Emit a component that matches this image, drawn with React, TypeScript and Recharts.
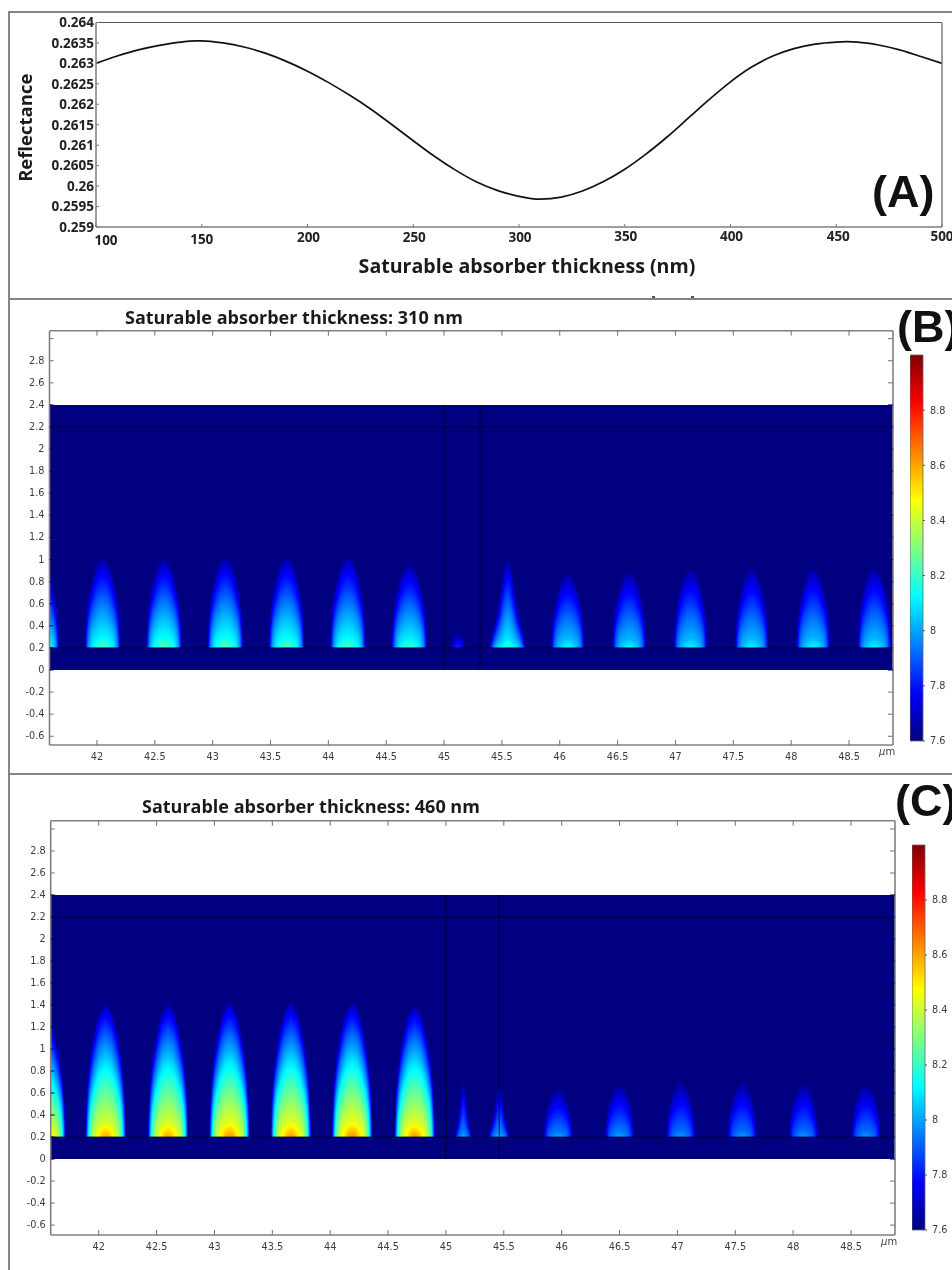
import React from "react";
import { ComposedChart, LineChart, BarChart, Bar, Line, Area, XAxis, YAxis } from "recharts";

// ---------- Panel A ----------
const thicknessNm = [100,110,120,130,140,147,150,160,170,180,190,200,210,220,230,240,250,260,270,280,290,300,310,320,330,340,350,360,370,380,390,400,410,420,430,440,450,455,460,470,480,490,500];
const reflectance = [0.263,0.26318,0.26333,0.26344,0.26352,0.26355,0.26355,0.2635,0.2634,0.26325,0.26305,0.26281,0.26253,0.26222,0.26188,0.2615,0.26111,0.26073,0.26039,0.2601,0.25989,0.25975,0.25968,0.25973,0.25988,0.26011,0.26041,0.26078,0.2612,0.26166,0.26212,0.26255,0.26291,0.26318,0.26336,0.26347,0.26352,0.26353,0.26352,0.26345,0.26333,0.26317,0.263];
const xTicksA = [100,150,200,250,300,350,400,450,500];
const yTicksA = [0.259,0.2595,0.26,0.2605,0.261,0.2615,0.262,0.2625,0.263,0.2635,0.264];
const xLabelShiftA: Record<number, [number, number]> = { 100:[10,3], 150:[0,2], 200:[1,0], 250:[1,0], 300:[1,0], 350:[1,-1], 400:[1,-1], 450:[2,-1], 500:[0,-1] };

// ---------- Panels B and C: field lobes ----------
const centersB = [41.52,42.05,42.58,43.11,43.64,44.17,44.7,45.12,45.55,46.07,46.6,47.13,47.66,48.19,48.72];
const topsB    = [0.98,1.04,1.03,1.05,1.05,1.05,0.98,0.35,1.03,0.89,0.91,0.94,0.94,0.95,0.95];
const peaksB   = [8.24,8.24,8.26,8.26,8.25,8.24,8.22,7.86,8.2,8.14,8.13,8.13,8.13,8.13,8.13];
const halfsB   = [0.155,0.155,0.155,0.155,0.155,0.155,0.155,0.052,0.16,0.146,0.146,0.146,0.146,0.146,0.146];
const shapesB  = ["dome","dome","dome","dome","dome","dome","dome","dome","spike","dome","dome","dome","dome","dome","dome"];

const centersC = [41.54,42.06,42.6,43.13,43.66,44.19,44.73,45.15,45.46,45.97,46.5,47.03,47.56,48.09,48.63];
const topsC    = [1.3,1.44,1.44,1.45,1.45,1.45,1.42,0.73,0.69,0.65,0.69,0.72,0.72,0.7,0.7];
const peaksC   = [8.6,8.6,8.6,8.63,8.62,8.64,8.62,8.03,8.06,8.02,8.02,8.0,8.0,8.0,8.0];
const halfsC   = [0.175,0.175,0.175,0.175,0.175,0.175,0.175,0.07,0.09,0.125,0.125,0.125,0.125,0.125,0.125];
const shapesC  = ["dome","dome","dome","dome","dome","dome","dome","spike","spike","dome","dome","dome","dome","dome","dome"];

const xTicksField = [42,42.5,43,43.5,44,44.5,45,45.5,46,46.5,47,47.5,48,48.5];
const yTicksField = [-0.6,-0.4,-0.2,0,0.2,0.4,0.6,0.8,1,1.2,1.4,1.6,1.8,2,2.2,2.4,2.6,2.8,3];
const colorTicks = [7.6,7.8,8,8.2,8.4,8.6,8.8];
const colorRange = [{ name: "scale", range: [7.6, 9.0] }];

// contour geometry: relative level -> relative height / base half width
const contourN = [0,0.14,0.29,0.48,0.62,0.77,0.81,0.95,1];
const contourH = [1,0.93,0.78,0.56,0.39,0.19,0.12,0.035,0];
const contourW = [1,0.98,0.93,0.86,0.78,0.63,0.54,0.22,0];
const domeU = [0,0.15,0.3,0.45,0.6,0.75,0.87,0.95,1];
const domeW = [1,0.98,0.94,0.87,0.76,0.6,0.43,0.27,0];
const spikeU = [0,0.15,0.3,0.45,0.6,0.75,0.87,0.95,1];
const spikeW = [1,0.85,0.68,0.52,0.4,0.29,0.2,0.12,0];

const jetStops: [number, string][] = [[0,"#00007f"],[0.125,"#0000ff"],[0.375,"#00ffff"],[0.625,"#ffff00"],[0.875,"#ff0000"],[1,"#7f0000"]];
const levels: number[] = [];
for (let v = 7.61; v < 8.72; v += 0.018) levels.push(v);

const SAMPLE = (xs: number[], ys: number[], x: number) => {
  for (let i = 1; i < xs.length; i++) {
    if (x <= xs[i]) {
      const t = (x - xs[i - 1]) / (xs[i] - xs[i - 1]);
      return ys[i - 1] + t * (ys[i] - ys[i - 1]);
    }
  }
  return ys[ys.length - 1];
};

const hexToRgb = (h: string) => [parseInt(h.slice(1, 3), 16), parseInt(h.slice(3, 5), 16), parseInt(h.slice(5, 7), 16)];
const jetColor = (v: number) => {
  const n = (v - 7.6) / 1.4;
  for (let i = 1; i < jetStops.length; i++) {
    if (n <= jetStops[i][0]) {
      const t = (n - jetStops[i - 1][0]) / (jetStops[i][0] - jetStops[i - 1][0]);
      const a = hexToRgb(jetStops[i - 1][1]);
      const b = hexToRgb(jetStops[i][1]);
      return `rgb(${a.map((c, k) => Math.round(c + t * (b[k] - c))).join(",")})`;
    }
  }
  return "#7f0000";
};

type Lobes = { centers: number[]; tops: number[]; peaks: number[]; halfs: number[]; shapes: string[] };

const contourRows = (l: Lobes, level: number) => {
  const rows: { x: number; y: number }[] = [];
  l.centers.forEach((c, i) => {
    if (l.peaks[i] <= level) return;
    const n = (level - 7.6) / (l.peaks[i] - 7.6);
    const H = (l.tops[i] - 0.2) * SAMPLE(contourN, contourH, n);
    const W = l.halfs[i] * SAMPLE(contourN, contourW, n);
    const us = l.shapes[i] === "spike" ? spikeU : domeU;
    const ws = l.shapes[i] === "spike" ? spikeW : domeW;
    for (let k = 0; k < us.length; k++) rows.push({ x: c - W * ws[k], y: 0.2 + H * us[k] });
    for (let k = us.length - 2; k >= 0; k--) rows.push({ x: c + W * ws[k], y: 0.2 + H * us[k] });
  });
  return rows;
};

const NAVY = "#000080";
const FRAME = "#858585";
const SANS = "'DejaVu Sans', sans-serif";
const BOLD = "'Open Sans', sans-serif";

const blank = () => "";
const axisLine = { stroke: "#808080", strokeWidth: 1.6 };
const innerTick = { stroke: "#707070", strokeWidth: 1 };
const labelTick = { fontFamily: SANS, fontSize: 9.7, fill: "#3c3c3c" };
const tickColor = (v: number) => (v >= 0 && v <= 2.4 ? "#00006c" : "#707070");

function YTickLeft(p: any) {
  const v = p.payload.value as number;
  return (
    <g>
      <line x1={p.x} x2={p.x + 4} y1={p.y} y2={p.y} stroke={tickColor(v)} />
      {v !== 3 && (
        <text x={p.x - 5} y={p.y} textAnchor="end" dominantBaseline="middle" fontFamily={SANS} fontSize={9.7} fill="#3c3c3c">{Number(v.toFixed(1))}</text>
      )}
    </g>
  );
}
function YTickRight(p: any) {
  const v = p.payload.value as number;
  return <line x1={p.x} x2={p.x - 5} y1={p.y} y2={p.y} stroke={tickColor(v)} />;
}

function FieldPanel(props: {
  top: number; height: number; left: number; right: number; plotTop: number; plotBottom: number;
  xDomain: [number, number]; yDomain: [number, number]; lobes: Lobes; boundary: number;
}) {
  const { top, height, left, right, plotTop, plotBottom, xDomain, yDomain, lobes, boundary } = props;
  const fieldRows = [{ x: xDomain[0], y: 2.4 }, { x: xDomain[1], y: 2.4 }];
  const line22 = [{ x: xDomain[0], y: 2.2 }, { x: xDomain[1], y: 2.2 }];
  const line02 = [{ x: xDomain[0], y: 0.2 }, { x: xDomain[1], y: 0.2 }];
  const line45 = [{ x: 45, y: 0 }, { x: 45, y: 2.4 }];
  const lineB = [{ x: boundary, y: 0 }, { x: boundary, y: 2.4 }];
  return (
    <div style={{ position: "absolute", left: 0, top, width: 952, height }}>
      <ComposedChart
        width={952}
        height={height}
        margin={{ top: plotTop - top - 1, bottom: top + height - plotBottom - 22, left: left - 40, right: 952 - right - 1 }}
      >
        <XAxis xAxisId="b" type="number" dataKey="x" domain={xDomain} allowDataOverflow ticks={xTicksField} interval={0} height={22} tickSize={-5} tickMargin={13} axisLine={axisLine} tickLine={innerTick} tick={labelTick} />
        <XAxis xAxisId="t" orientation="top" type="number" dataKey="x" domain={xDomain} allowDataOverflow ticks={xTicksField} interval={0} height={1} tickSize={-5} tickFormatter={blank} axisLine={axisLine} tickLine={innerTick} />
        <YAxis yAxisId="l" type="number" domain={yDomain} allowDataOverflow ticks={yTicksField} interval={0} width={40} tickSize={0} tickMargin={0} axisLine={axisLine} tickLine={false} tick={YTickLeft} />
        <YAxis yAxisId="r" orientation="right" type="number" domain={yDomain} allowDataOverflow ticks={yTicksField} interval={0} width={1} tickSize={0} tickMargin={0} axisLine={axisLine} tickLine={false} tick={YTickRight} />
        <Area xAxisId="b" yAxisId="l" data={fieldRows} dataKey="y" baseValue={0} type="linear" stroke="none" fill={NAVY} fillOpacity={1} dot={false} activeDot={false} isAnimationActive={false} />
        {levels.map((lv) => (
          <Area key={lv} xAxisId="b" yAxisId="l" data={contourRows(lobes, lv)} dataKey="y" baseValue={0.2} type="linear" stroke="none" fill={jetColor(lv)} fillOpacity={1} dot={false} activeDot={false} isAnimationActive={false} />
        ))}
        {[line22, line02, line45, lineB].map((d, i) => (
          <Line key={i} xAxisId="b" yAxisId="l" data={d} dataKey="y" type="linear" stroke="#000020" strokeWidth={0.9} dot={false} activeDot={false} isAnimationActive={false} />
        ))}
      </ComposedChart>
    </div>
  );
}

function ColorBar(props: { left: number; top: number; bottom: number; id: string }) {
  const { left, top, bottom, id } = props;
  const pad = 10;
  return (
    <div style={{ position: "absolute", left, top: top - pad, width: 42, height: bottom - top + pad * 2 }}>
      <BarChart width={42} height={bottom - top + pad * 2} data={colorRange} margin={{ top: pad, bottom: pad, left: 0, right: 0 }} barCategoryGap={0}>
        <defs>
          <linearGradient id={id} x1="0" y1="1" x2="0" y2="0">
            {jetStops.map(([o, c]) => <stop key={o} offset={o} stopColor={c} />)}
          </linearGradient>
        </defs>
        <XAxis dataKey="name" hide />
        <YAxis orientation="right" type="number" domain={[7.6, 9]} ticks={colorTicks} interval={0} width={29} tickSize={2} tickMargin={5} axisLine={false} tickLine={{ stroke: "#555" }} tickFormatter={(v: number) => String(v)} tick={{ ...labelTick, textAnchor: "start" }} />
        <Bar dataKey="range" fill={`url(#${id})`} stroke="#666" strokeWidth={0.8} isAnimationActive={false} />
      </BarChart>
    </div>
  );
}

const rowsA = thicknessNm.map((x, i) => ({ x, y: reflectance[i] }));

function XTickA(p: any) {
  const v = p.payload.value as number;
  const [dx, dy] = xLabelShiftA[v];
  return (
    <text x={p.x + dx} y={p.y + dy + 5} textAnchor="middle" dominantBaseline="middle" fontFamily={BOLD} fontWeight={700} fontSize={13.5} fill="#222">{v}</text>
  );
}

const lobesB: Lobes = { centers: centersB, tops: topsB, peaks: peaksB, halfs: halfsB, shapes: shapesB };
const lobesC: Lobes = { centers: centersC, tops: topsC, peaks: peaksC, halfs: halfsC, shapes: shapesC };

const bigLabel = (left: number, baseline: number, text: string) => (
  <div style={{ position: "absolute", left, top: baseline - 41, fontFamily: "'Liberation Sans', Arial, sans-serif", fontWeight: 700, fontSize: 45, lineHeight: "52px", color: "#111", whiteSpace: "nowrap" }}>{text}</div>
);
const title = (left: number, center: number, text: string) => (
  <div style={{ position: "absolute", left, top: center - 12, fontFamily: BOLD, fontWeight: 700, fontSize: 18, lineHeight: "24px", color: "#1a1a1a", whiteSpace: "nowrap" }}>{text}</div>
);
const micron = (left: number, top: number) => (
  <div style={{ position: "absolute", left, top, fontFamily: SANS, fontSize: 10, lineHeight: "12px", color: "#444" }}><i>μ</i>m</div>
);
const rule = (left: number, top: number, width: number, height: number, color = FRAME) => (
  <div style={{ position: "absolute", left, top, width, height, background: color }} />
);

export default function App() {
  return (
    <div style={{ position: "absolute", left: 0, top: 0, width: 952, height: 1270, overflow: "hidden", background: "#fff", filter: "blur(0.6px)" }}>
      {rule(8, 11, 944, 1.5)}
      {rule(8, 11, 1.5, 1259)}
      {rule(8, 297.5, 944, 2)}
      {rule(8, 773, 944, 2)}

      <div style={{ position: "absolute", left: 0, top: 12, width: 952, height: 285 }}>
        <LineChart width={952} height={285} data={rowsA} margin={{ top: 9.5, bottom: 285 - 215 - 24, left: 16, right: 9 }}>
          <XAxis xAxisId="b" type="number" dataKey="x" domain={[100, 500]} ticks={xTicksA} interval={0} height={24} tickSize={-3} tickMargin={9} axisLine={{ stroke: "#7c7c7c", strokeWidth: 1.5 }} tickLine={{ stroke: "#777" }} tick={XTickA}
            label={{ value: "Saturable absorber thickness (nm)", position: "insideBottom", offset: -22, dx: 8, style: { fontFamily: BOLD, fontWeight: 700, fontSize: 19.6, fill: "#1a1a1a" } }} />
          <XAxis xAxisId="t" orientation="top" type="number" dataKey="x" domain={[100, 500]} ticks={[]} height={1} tick={false} tickLine={false} axisLine={{ stroke: "#555", strokeWidth: 1 }} />
          <YAxis yAxisId="l" type="number" domain={[0.259, 0.264]} ticks={yTicksA} interval={0} width={80} tickSize={-3} tickMargin={5} tickFormatter={(v: number) => String(Number(v.toFixed(4)))} axisLine={{ stroke: "#7c7c7c", strokeWidth: 1.5 }} tickLine={{ stroke: "#777" }} tick={{ fontFamily: BOLD, fontWeight: 700, fontSize: 13.5, fill: "#222" }}
            label={{ value: "Reflectance", angle: -90, position: "insideLeft", offset: 0, dx: 9, dy: 3, style: { fontFamily: BOLD, fontWeight: 700, fontSize: 18.5, fill: "#1a1a1a", textAnchor: "middle" } }} />
          <YAxis yAxisId="r" orientation="right" type="number" domain={[0.259, 0.264]} ticks={[]} width={1} tick={false} tickLine={false} axisLine={{ stroke: "#7c7c7c", strokeWidth: 1.5 }} />
          <Line xAxisId="b" yAxisId="l" dataKey="y" type="monotone" stroke="#111" strokeWidth={1.7} dot={false} activeDot={false} isAnimationActive={false} />
        </LineChart>
      </div>
      {bigLabel(872, 207, "(A)")}
      {rule(652, 296, 3, 1.5, "#555")}
      {rule(691, 296, 3, 1.5, "#555")}

      {title(125, 317, "Saturable absorber thickness: 310 nm")}
      <FieldPanel top={300} height={472} left={49.5} right={893} plotTop={330.7} plotBottom={745} xDomain={[41.59, 48.88]} yDomain={[-0.679, 3.072]} lobes={lobesB} boundary={45.31} />
      {micron(879, 746)}
      <ColorBar left={910} top={355} bottom={741} id="jetB" />
      {bigLabel(897, 342, "(B)")}

      {title(142, 806, "Saturable absorber thickness: 460 nm")}
      <FieldPanel top={790} height={478} left={50.7} right={895} plotTop={820.7} plotBottom={1235} xDomain={[41.585, 48.88]} yDomain={[-0.69, 3.075]} lobes={lobesC} boundary={45.46} />
      {micron(881, 1236)}
      <ColorBar left={912} top={845} bottom={1230} id="jetC" />
      {bigLabel(895, 816, "(C)")}
    </div>
  );
}
